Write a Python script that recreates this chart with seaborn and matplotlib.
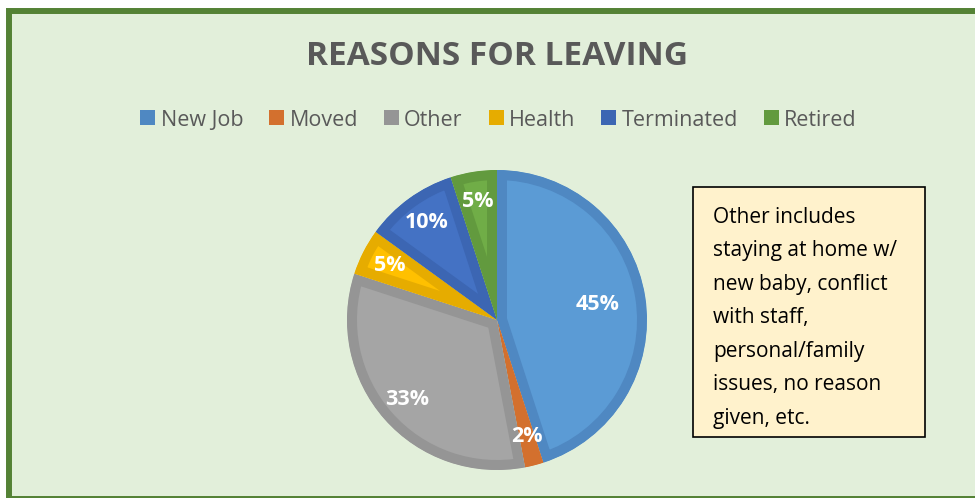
import matplotlib
matplotlib.use("Agg")
import matplotlib.pyplot as plt
from matplotlib.patches import Rectangle, Patch
import numpy as np
import seaborn as sns

# --- Data ---
labels = ["New Job", "Moved", "Other", "Health", "Terminated", "Retired"]
shares = [45, 2, 33, 5, 10, 5]
fill_colors = ["#5B9BD5", "#D9712E", "#A5A5A5", "#FFC000", "#4472C4", "#70AD47"]
edge_colors = ["#4F88C2", "#D3702E", "#959595", "#E6AC00", "#3C66B3", "#629A3E"]
title = "REASONS FOR LEAVING"
note_lines = ["Other includes", "staying at home w/", "new baby, conflict", "with staff,",
              "personal/family", "issues, no reason", "given, etc."]

sns.set_theme(style="white")
plt.rcParams["font.family"] = ["Open Sans", "DejaVu Sans"]

W, H = 975, 498
fig = plt.figure(figsize=(W / 100, H / 100), dpi=100, facecolor="white")

# chart area with green frame
frame = Rectangle((9 / W, -1 / H), 1.2, (H - 11.5 + 1) / H, transform=fig.transFigure,
                  facecolor="#E2EFDA", edgecolor="#548235", linewidth=4.3,
                  zorder=-1, clip_on=False)
fig.patches.append(frame)

# --- Pie ---
ax = fig.add_axes([347 / W, (H - 470) / H, 300 / W, 300 / H])
ax.set_facecolor("none")
wedges, _, autotexts = ax.pie(
    shares, colors=fill_colors, startangle=90, counterclock=False,
    autopct=lambda p: f"{p:.0f}%", pctdistance=0.8,
    textprops=dict(color="white", fontsize=15.5, fontweight="bold"),
)
# darker inner border on every slice (stroke clipped to the slice itself)
for w, ec in zip(wedges, edge_colors):
    w.set_edgecolor(ec)
    w.set_linewidth(14.4)
    w.set_clip_on(True)
    w.set_clip_path(w)
# the big slice label sits closer to the centre
x, y = autotexts[0].get_position()
autotexts[0].set_position((x * 0.68 / 0.8, y * 0.68 / 0.8))
ax.set_xlim(-1, 1)
ax.set_ylim(-1, 1)
ax.axis("off")

# --- Title & legend ---
fig.text(497 / W, 1 - 56.5 / H, title, ha="center", va="center",
         fontsize=24, fontweight="bold", color="#595959")

handles = [Patch(facecolor=c, edgecolor="none", label=l) for l, c in zip(labels, edge_colors)]
fig.legend(handles=handles, loc="center", bbox_to_anchor=(498.5 / W, 1 - 120 / H),
           ncol=6, frameon=False, fontsize=15.5, handlelength=0.7, handleheight=0.7,
           handletextpad=0.25, columnspacing=1.2, labelcolor="#595959")

# --- Note box ---
box = Rectangle((693 / W, (H - 437) / H), 232 / W, 250 / H, transform=fig.transFigure,
                facecolor="#FFF2CC", edgecolor="black", linewidth=1.2)
fig.patches.append(box)
for i, line in enumerate(note_lines):
    fig.text(713 / W, 1 - (222.7 + 33.55 * i) / H, line, ha="left", va="baseline",
             fontsize=15, color="black")

fig.savefig("out.png", dpi=100, facecolor="white")
